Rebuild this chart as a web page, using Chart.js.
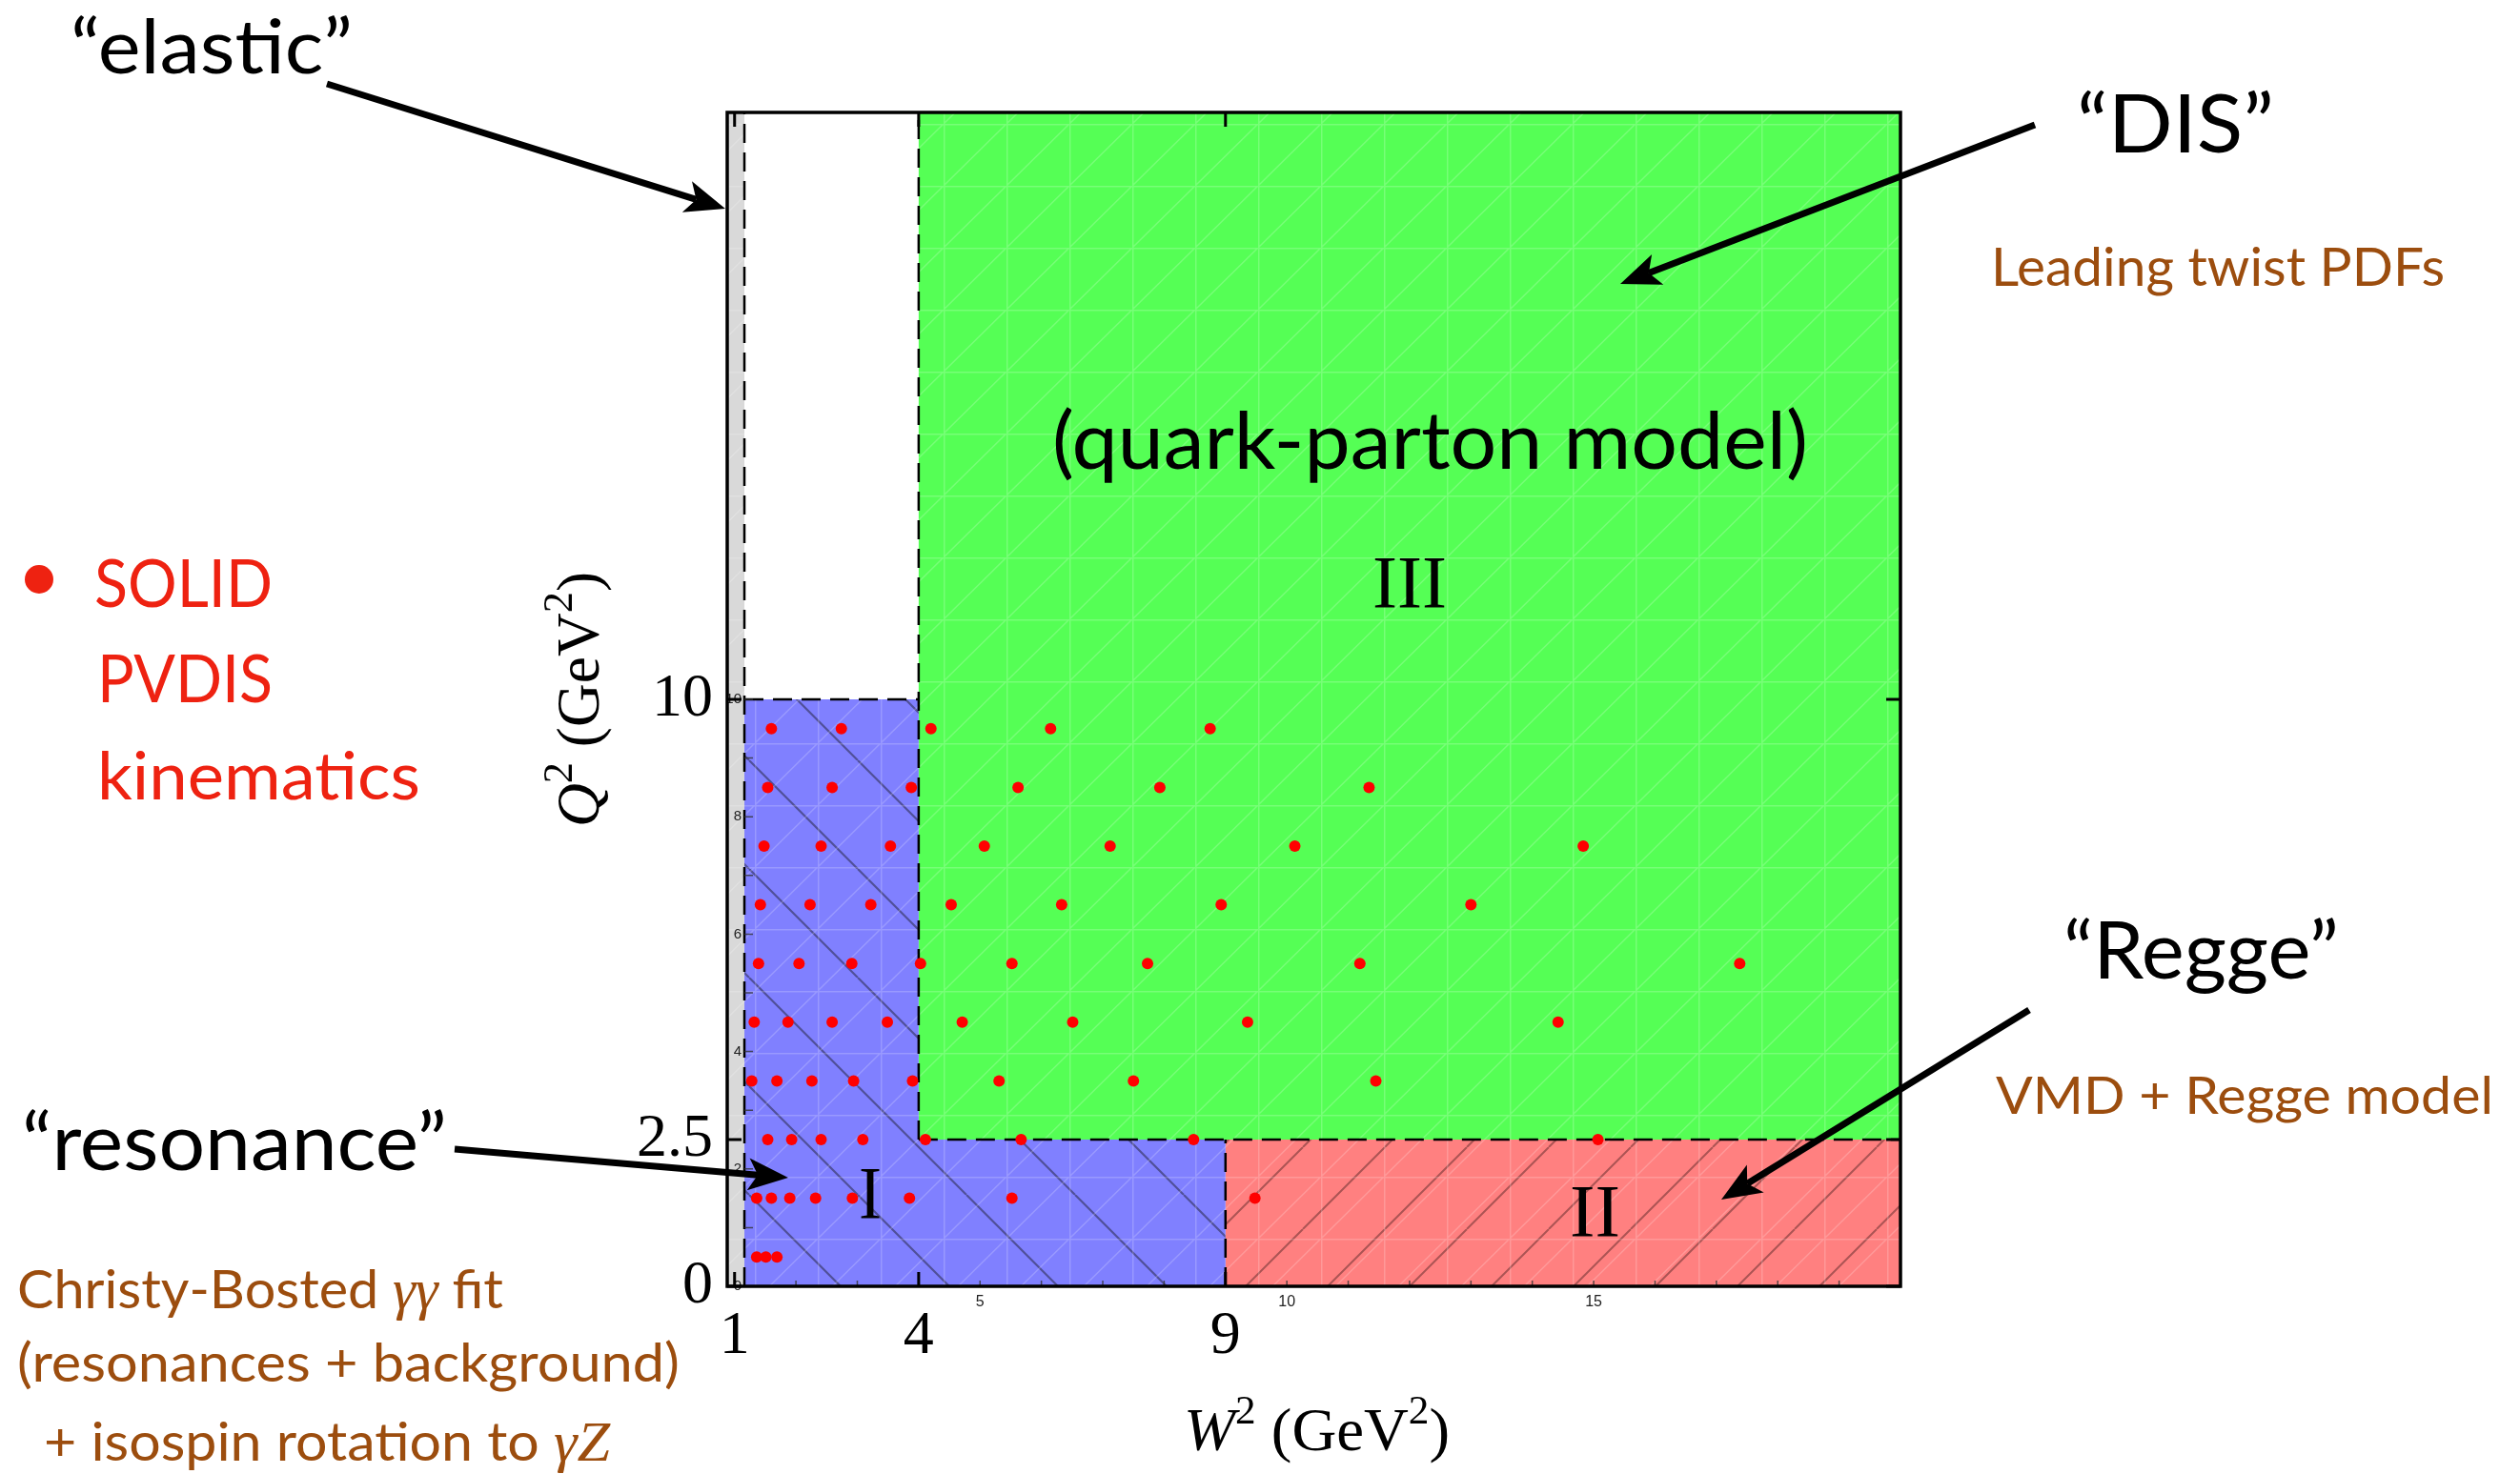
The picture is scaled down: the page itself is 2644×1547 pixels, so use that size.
<!DOCTYPE html>
<html>
<head>
<meta charset="utf-8">
<title>W² – Q² regions</title>
<script src="https://cdn.jsdelivr.net/npm/chart.js@4.4.0/dist/chart.umd.min.js"></script>
<style>
  html, body { margin: 0; background: #fff; }
  canvas { display: block; }
</style>
</head>
<body>
<canvas id="regions" width="2644" height="1547"></canvas>
<script>
// axes, GeV^2
const w2Range = [0.88, 20];          // starts at M^2
const q2Range = [0, 20];
// region edges: pion threshold, end of resonances, start of Regge / low Q^2, resonance ceiling
const w2Edges = [1.16, 4, 9];
const q2Edges = [2.5, 10];

const xTicks = [1, 4, 9];
const yTicks = [0, 2.5, 10];
const xMinorLabels = [5, 10, 15];
const yMinorLabels = [0, 2, 4, 6, 8, 10];

// SOLID PVDIS bins: W^2 of each point, one list per Q^2 row
const q2Rows = [0.5, 1.5, 2.5, 3.5, 4.5, 5.5, 6.5, 7.5, 8.5, 9.5];
const w2Rows = [
  [1.36, 1.51, 1.69],
  [1.36, 1.60, 1.90, 2.32, 2.92, 3.85, 5.52, 9.48],
  [1.54, 1.93, 2.41, 3.09, 4.11, 5.67, 8.48, 15.07],
  [1.28, 1.69, 2.26, 2.94, 3.90, 5.31, 7.50, 11.45],
  [1.32, 1.87, 2.59, 3.49, 4.71, 6.51, 9.36, 14.42],
  [1.39, 2.05, 2.91, 4.03, 5.52, 7.73, 11.19, 17.38],
  [1.42, 2.23, 3.22, 4.53, 6.33, 8.93, 13.00],
  [1.48, 2.41, 3.54, 5.07, 7.12, 10.13, 14.83],
  [1.54, 2.59, 3.88, 5.62, 7.93, 11.34],
  [1.60, 2.74, 4.20, 6.15, 8.75]
];

const BROWN = '#9c4d0e';
const RED = '#ee2211';
const sans = s => `${s}px Lato`;
const serif = s => `${s}px "Liberation Serif"`;
const serifIt = s => `italic ${s}px "Liberation Serif"`;

const canvas = document.getElementById('regions');
const ctx = canvas.getContext('2d');

function tile(w, h, base, draw, shift) {
  const c = document.createElement('canvas');
  c.width = w; c.height = h;
  const g = c.getContext('2d');
  if (base) { g.fillStyle = base; g.fillRect(0, 0, w, h); }
  if (draw) draw(g, w, h);
  const p = ctx.createPattern(c, 'repeat');
  if (shift) p.setTransform(new DOMMatrix().translate(shift, 0));
  return p;
}

function hatch(dir, color, width) {
  return (g, w, h) => {
    g.strokeStyle = color; g.lineWidth = width;
    g.beginPath();
    for (const k of [-w, 0, w]) {
      if (dir === '/') { g.moveTo(k, h); g.lineTo(k + w, 0); }
      else { g.moveTo(k, 0); g.lineTo(k + w, h); }
    }
    g.stroke();
  };
}

const fills = {
  elastic: '#d9d9d9',
  res: tile(114, 114, '#8080ff', hatch('\\', 'rgba(40,40,70,0.55)', 2.2), -12),
  regge: tile(86, 86, '#ff8080', hatch('/', 'rgba(70,30,30,0.45)', 2), -9),
  dis: '#55ff55',
  // faint mesh left over from the triangulated fill
  mesh: tile(66, 65, null, (g, w, h) => {
    g.strokeStyle = 'rgba(255,255,255,0.2)'; g.lineWidth = 1.5;
    g.beginPath();
    g.moveTo(0.75, 0); g.lineTo(0.75, h);
    g.moveTo(0, 0.75); g.lineTo(w, 0.75);
    g.moveTo(0, h); g.lineTo(w, 0);
    g.stroke();
  })
};

const [wLo, wHi] = w2Range;
const [qLo, qHi] = q2Range;
const [wThr, wRes, wRegge] = w2Edges;
const [qLow, qRes] = q2Edges;
const pts = list => list.map(([x, y]) => ({ x, y }));

const regionShapes = [
  { data: pts([[wLo, qLo], [wThr, qLo], [wThr, qHi], [wLo, qHi]]), fill: fills.elastic },
  { data: pts([[wThr, qLo], [wThr, qRes], [wRes, qRes], [wRes, qLow], [wRegge, qLow], [wRegge, qLo]]), fill: fills.res },
  { data: pts([[wRegge, qLo], [wRegge, qLow], [wHi, qLow], [wHi, qLo]]), fill: fills.regge },
  { data: pts([[wRes, qLow], [wRes, qHi], [wHi, qHi], [wHi, qLow]]), fill: fills.dis },
  { data: pts([[wLo, qLo], [wLo, qHi], [wHi, qHi], [wHi, qLo]]), fill: fills.mesh, order: 2 }
];

const edgeLines = [
  [[wThr, qLo], [wThr, qHi]],
  [[wThr, qRes], [wRes, qRes]],
  [[wRes, qLow], [wRes, qHi]],
  [[wRes, qLow], [wHi, qLow]],
  [[wRegge, qLo], [wRegge, qLow]]
];

const points = q2Rows.flatMap((q, i) => w2Rows[i].map(w => ({ x: w, y: q })));

const datasets = [
  {
    data: points, showLine: false, order: 0,
    pointRadius: 6, pointBackgroundColor: '#ff0000', pointBorderWidth: 0
  },
  ...edgeLines.map(l => ({
    data: pts(l), showLine: true, order: 1, pointRadius: 0,
    borderColor: '#000', borderWidth: 2.5, borderDash: [20, 10], fill: false
  })),
  ...regionShapes.map(r => ({
    data: r.data, showLine: true, order: r.order ?? 3, pointRadius: 0,
    fill: 'shape', backgroundColor: r.fill, borderColor: 'rgba(0,0,0,0)', borderWidth: 1
  }))
];

// tiny Mathematica-style ticks on the inner frame plus the outer frame with its main ticks
const framePlugin = {
  id: 'frame',
  afterDatasetsDraw(chart) {
    const { ctx, chartArea: a, scales: { x, y } } = chart;
    const xThr = x.getPixelForValue(wThr);
    ctx.save();

    ctx.strokeStyle = 'rgba(50,50,50,0.8)';
    ctx.lineWidth = 1.5;
    ctx.beginPath();
    for (let q = 0; q <= 10; q++) {
      const py = y.getPixelForValue(q);
      ctx.moveTo(xThr, py); ctx.lineTo(xThr + 9, py);
    }
    for (let w = 2; w < 20; w++) {
      const px = x.getPixelForValue(w);
      ctx.moveTo(px, a.bottom); ctx.lineTo(px, a.bottom - 6);
    }
    ctx.stroke();

    ctx.fillStyle = '#222';
    ctx.font = '15px "Liberation Sans"';
    ctx.textAlign = 'right'; ctx.textBaseline = 'middle';
    yMinorLabels.forEach(v => ctx.fillText(String(v), xThr - 3, y.getPixelForValue(v)));
    ctx.font = '16px "Liberation Sans"';
    ctx.textAlign = 'center';
    xMinorLabels.forEach(v => ctx.fillText(String(v), x.getPixelForValue(v), a.bottom + 17));

    ctx.strokeStyle = '#000';
    ctx.lineWidth = 3.5;
    ctx.strokeRect(a.left, a.top, a.right - a.left, a.bottom - a.top);
    ctx.lineWidth = 3;
    ctx.beginPath();
    xTicks.forEach(v => {
      const px = x.getPixelForValue(v);
      ctx.moveTo(px, a.bottom); ctx.lineTo(px, a.bottom - 15);
      ctx.moveTo(px, a.top); ctx.lineTo(px, a.top + 15);
    });
    yTicks.forEach(v => {
      const py = y.getPixelForValue(v);
      ctx.moveTo(a.left, py); ctx.lineTo(a.left + 15, py);
      ctx.moveTo(a.right, py); ctx.lineTo(a.right - 15, py);
    });
    ctx.stroke();

    ctx.fillStyle = '#000';
    ctx.font = serif(64);
    ctx.textAlign = 'right'; ctx.textBaseline = 'middle';
    yTicks.forEach(v => ctx.fillText(String(v), a.left - 15, y.getPixelForValue(v)));
    ctx.textAlign = 'center'; ctx.textBaseline = 'alphabetic';
    xTicks.forEach(v => ctx.fillText(String(v), x.getPixelForValue(v), a.bottom + 70));
    ctx.restore();
  }
};

// runs of text squeezed to a given width, drawn from a left baseline point
function drawRuns(ctx, runs, x, y, width) {
  let total = 0;
  const sized = runs.map(([t, font, dy]) => {
    ctx.font = font;
    const w = ctx.measureText(t).width;
    total += w;
    return { t, font, dy: dy || 0, w };
  });
  const sx = width ? width / total : 1;
  ctx.save();
  ctx.translate(x, y);
  ctx.scale(sx, 1);
  let cx = 0;
  sized.forEach(r => { ctx.font = r.font; ctx.fillText(r.t, cx, r.dy); cx += r.w; });
  ctx.restore();
}

function drawArrow(ctx, [x0, y0], [x1, y1]) {
  const ang = Math.atan2(y1 - y0, x1 - x0);
  const c = Math.cos(ang), s = Math.sin(ang);
  const L = 42, H = 17, notch = 10;
  const bx = x1 - L * c, by = y1 - L * s;
  ctx.lineWidth = 7;
  ctx.beginPath();
  ctx.moveTo(x0, y0);
  ctx.lineTo(x1 - (L - notch) * c, y1 - (L - notch) * s);
  ctx.stroke();
  ctx.beginPath();
  ctx.moveTo(x1, y1);
  ctx.lineTo(bx - H * s, by + H * c);
  ctx.lineTo(x1 - (L - notch) * c, y1 - (L - notch) * s);
  ctx.lineTo(bx + H * s, by - H * c);
  ctx.closePath();
  ctx.fill();
}

const notes = [
  { runs: [['“elastic”', sans(80)]], x: 74, y: 77, w: 296, color: '#000' },
  { runs: [['“DIS”', sans(86)]], x: 2179, y: 160, w: 207, color: '#000' },
  { runs: [['Leading twist PDFs', sans(56)]], x: 2089, y: 300, w: 476, color: BROWN },
  { runs: [['“Regge”', sans(84)]], x: 2165, y: 1027, w: 289, color: '#000' },
  { runs: [['VMD + Regge model', sans(55)]], x: 2094, y: 1169, w: 522, color: BROWN },
  { runs: [['“resonance”', sans(84)]], x: 23, y: 1228, w: 446, color: '#000' },
  { runs: [['Christy-Bosted ', sans(57)], ['γγ', serifIt(60)], [' fit', sans(57)]], x: 18, y: 1373, w: 510, color: BROWN },
  { runs: [['(resonances + background)', sans(57)]], x: 18, y: 1450, w: 695, color: BROWN },
  { runs: [['+ isospin rotation to ', sans(57)], ['γZ', serifIt(60)]], x: 46, y: 1533, w: 594, color: BROWN },
  { runs: [['SOLID', sans(70)]], x: 99, y: 637, w: 187, color: RED },
  { runs: [['PVDIS', sans(70)]], x: 102, y: 737, w: 184, color: RED },
  { runs: [['kinematics', sans(70)]], x: 102, y: 839, w: 339, color: RED },
  { runs: [['(quark-parton model)', sans(84)]], x: 1104, y: 492, w: 793, color: '#000' },
  { runs: [['III', serif(79)]], x: 1440, y: 637, w: 78, color: '#000' },
  { runs: [['I', serif(79)]], x: 901, y: 1278, w: 24, color: '#000' },
  { runs: [['II', serif(79)]], x: 1647, y: 1297, w: 53, color: '#000' }
];

const arrows = [
  { from: [343, 88], to: [761, 219] },
  { from: [2135, 131], to: [1700, 298] },
  { from: [2129, 1060], to: [1806, 1259] },
  { from: [477, 1206], to: [827, 1236] }
];

const notesPlugin = {
  id: 'notes',
  afterDraw(chart) {
    const { ctx } = chart;
    ctx.save();
    ctx.textAlign = 'left'; ctx.textBaseline = 'alphabetic';

    // axis titles
    ctx.fillStyle = '#000';
    drawRuns(ctx, [['W', serifIt(63)], ['2', serif(42), -28], [' (GeV', serif(63)], ['2', serif(42), -28], [')', serif(63)]], 1242, 1522, 279);
    ctx.save();
    ctx.translate(628, 734);
    ctx.rotate(-Math.PI / 2);
    drawRuns(ctx, [['Q', serifIt(63)], ['2', serif(44), -28], [' (GeV', serif(63)], ['2', serif(44), -28], [')', serif(63)]], -134, 0, 268);
    ctx.restore();

    notes.forEach(n => { ctx.fillStyle = n.color; drawRuns(ctx, n.runs, n.x, n.y, n.w); });

    ctx.fillStyle = RED;
    ctx.beginPath(); ctx.arc(41, 608, 15, 0, Math.PI * 2); ctx.fill();

    ctx.fillStyle = '#000'; ctx.strokeStyle = '#000';
    arrows.forEach(a => drawArrow(ctx, a.from, a.to));
    ctx.restore();
  }
};

new Chart(ctx, {
  type: 'scatter',
  data: { datasets },
  options: {
    responsive: false,
    animation: false,
    events: [],
    layout: { padding: { left: 763, top: 118, right: 650, bottom: 197 } },
    scales: {
      x: { type: 'linear', min: w2Range[0], max: w2Range[1], display: false },
      y: { type: 'linear', min: q2Range[0], max: q2Range[1], display: false }
    },
    plugins: { legend: { display: false }, tooltip: { enabled: false } }
  },
  plugins: [framePlugin, notesPlugin]
});
</script>
</body>
</html>
